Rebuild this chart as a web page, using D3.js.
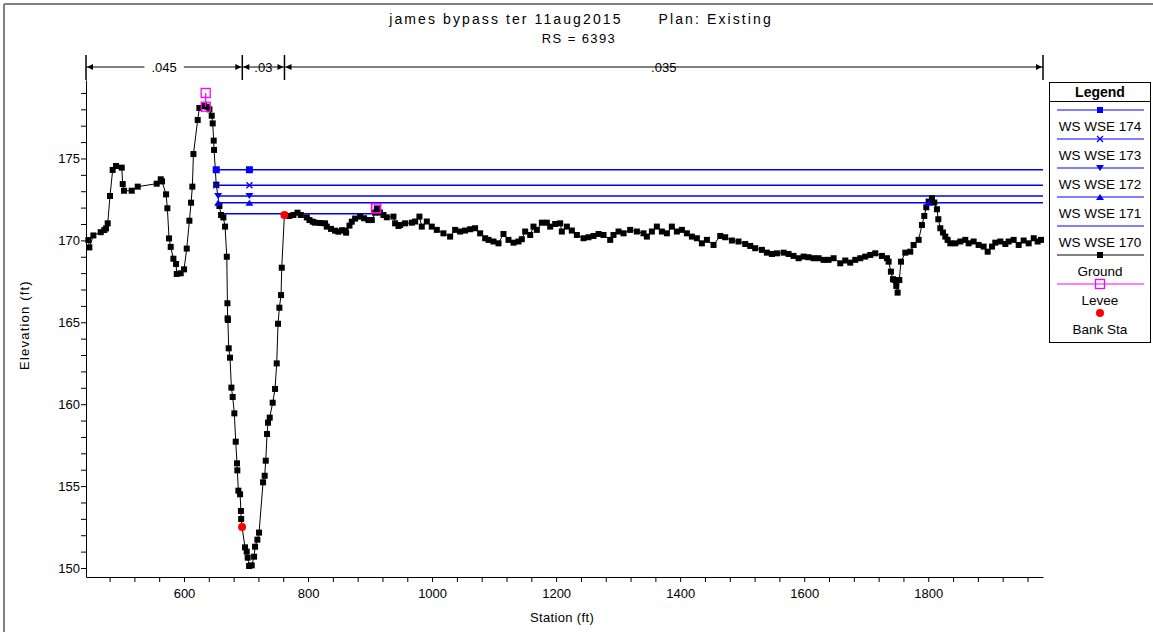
<!DOCTYPE html>
<html><head><meta charset="utf-8">
<script src="https://cdn.jsdelivr.net/npm/d3@7"></script>
<style>
body{margin:0;background:#fff;}
svg{display:block;font-family:"Liberation Sans",Arial,sans-serif;}
</style></head><body>
<svg id="c" width="1153" height="632"></svg>
<script>
// ---------- data ----------
const titleText = "james bypass ter 11aug2015";
const planText = "Plan: Existing";
const rsText = "RS = 6393";
const xLabel = "Station (ft)";
const yLabel = "Elevation (ft)";

const groundSta = [445.8,447.4,453.9,465.7,471.6,474.3,477.0,480.7,485.0,490.4,499.6,501.2,503.3,515.7,525.4,556.0,562.5,564.6,571.1,573.2,575.9,578.6,582.9,587.2,588.3,594.7,600.1,604.4,608.7,611.4,613.5,615.2,622.1,624.8,632.4,636.7,641.0,644.7,646.3,647.9,648.5,652.0,657.1,659.8,663.5,666.2,669.0,670.0,670.3,670.8,672.1,674.2,676.4,678.5,681.2,683.4,685.5,686.0,687.7,690.4,691.8,692.2,693.6,698.4,701.1,702.7,704.9,709.2,713.0,714.6,718.3,721.0,727.5,730.1,731.8,733.9,735.5,738.2,743.0,746.8,749.5,751.6,753.8,756.5,757.6,761.9,770.0,776.4,782.9,788.3,798.0,802.3,807.6,811.4,820.0,827.5,830.2,837.0,843.6,849.0,855.0,859.8,861.4,866.8,870.5,875.9,884.0,890.4,897.4,902.8,908.2,910.9,916.0,921.6,927.0,937.7,940.4,945.8,948.5,956.5,967.3,972.7,979.6,983.4,991.5,999.5,1007.6,1018.3,1029.1,1037.2,1045.2,1053.3,1061.4,1069.4,1077.5,1085.6,1091.0,1099.0,1107.1,1115.1,1123.2,1131.3,1139.3,1144.7,1150.1,1158.2,1163.5,1168.9,1177.0,1185.0,1190.4,1198.5,1206.5,1209.2,1217.3,1225.3,1233.4,1244.2,1252.2,1260.3,1268.4,1276.4,1287.2,1292.5,1300.6,1308.7,1319.4,1330.2,1340.9,1346.3,1354.4,1362.4,1370.5,1378.6,1386.6,1394.7,1402.8,1410.8,1418.9,1426.9,1435.0,1443.1,1453.8,1464.6,1472.6,1483.4,1494.1,1504.9,1513.0,1521.0,1531.8,1539.8,1547.9,1556.0,1566.7,1574.8,1582.8,1590.9,1599.0,1607.0,1615.1,1623.2,1631.2,1639.3,1647.4,1658.1,1666.2,1674.2,1682.3,1690.4,1698.4,1706.5,1714.6,1725.3,1733.4,1736.1,1739.8,1743.1,1745.7,1748.4,1750.6,1753.3,1756.0,1763.0,1771.0,1776.4,1784.5,1789.8,1793.6,1796.8,1800.6,1806.0,1809.7,1814.0,1816.2,1819.4,1823.7,1827.5,1831.2,1835.5,1843.6,1851.7,1859.7,1865.1,1873.2,1881.2,1889.3,1895.8,1902.7,1908.1,1916.2,1924.3,1929.6,1937.7,1945.8,1953.8,1961.9,1970.0,1976.4,1981.8];
const groundElev = [170.02,169.57,170.30,170.50,170.63,170.73,171.04,172.71,174.30,174.54,174.44,173.44,173.03,173.03,173.28,173.46,173.73,173.60,172.81,171.96,170.12,169.60,168.88,168.56,167.95,167.99,168.23,169.50,171.20,172.30,173.28,175.27,177.35,178.08,178.20,178.16,178.00,177.61,177.14,176.09,175.52,173.40,172.10,171.55,171.40,170.84,169.00,166.16,165.24,165.14,163.41,162.84,161.01,160.44,159.44,157.71,156.39,155.96,154.72,154.50,153.48,152.99,152.50,151.26,151.00,150.63,150.12,150.16,150.69,151.30,151.73,152.16,155.23,155.63,156.55,158.18,158.87,159.18,160.09,160.93,162.49,164.91,165.89,166.66,168.33,171.55,171.49,171.55,171.69,171.55,171.40,171.24,171.14,171.08,171.06,171.04,170.84,170.70,170.59,170.53,170.62,170.59,170.47,170.90,171.14,171.33,171.45,171.35,171.24,171.24,171.69,171.95,171.70,171.55,171.41,171.45,171.04,170.88,170.94,171.04,171.08,171.15,171.45,170.84,171.15,170.84,170.64,170.43,170.23,170.64,170.54,170.60,170.68,170.74,170.43,170.13,170.03,169.93,169.82,170.39,170.03,169.86,169.93,170.07,170.54,170.33,170.84,170.64,171.08,171.08,170.84,171.00,171.04,170.54,170.84,170.60,170.33,170.13,170.19,170.27,170.39,170.33,170.03,170.33,170.54,170.43,170.64,170.54,170.43,170.23,170.54,170.84,170.54,170.43,170.84,170.54,170.64,170.43,170.23,170.13,169.82,170.03,169.72,170.27,170.19,169.99,169.93,169.78,169.66,169.52,169.42,169.25,169.17,169.21,169.25,169.17,169.05,168.91,169.01,168.97,168.91,168.91,168.81,168.81,168.91,168.60,168.77,168.64,168.81,168.91,169.01,169.11,169.21,169.05,168.91,168.70,168.09,167.63,167.58,167.22,166.81,167.58,168.70,169.25,169.31,169.72,170.03,170.94,171.49,172.02,172.37,172.57,172.31,171.90,171.29,170.74,170.48,170.23,170.03,169.82,169.82,169.93,170.03,169.82,169.93,169.72,169.62,169.31,169.62,169.86,169.93,169.78,169.93,170.03,169.72,169.99,169.82,170.13,169.93,170.03];

const bankSta = [693.6, 761.9];
const bankElev = [152.50, 171.55];

const leveeSta = [635.0, 909.7];
const leveeTop = [179.00, 171.96];
const leveeBase = [178.16, 171.96];

const wsNames = ["WS WSE 174", "WS WSE 173", "WS WSE 172", "WS WSE 171", "WS WSE 170"];
const wsElev = [174.31, 173.36, 172.71, 172.30, 171.63];
const wsStart = [652.0, 652.0, 655.0, 655.0, 663.0];
const wsEnd = [1985, 1985, 1985, 1985, 909.7];
const wsMarkSta = [[652.0, 705.5], [652.0, 705.5], [655.0, 705.5], [655.0, 705.5, 1800.6], []];
const wsSymbols = ["square", "cross", "tridown", "triup", "none"];

const nValues = [".045", ".03", ".035"];
const nBounds = [442, 694, 762, 1985];

const xTicks = d3.range(480, 1985, 40);
const yTicks = d3.range(150, 180, 1);

// ---------- drawing ----------
const svg = d3.select("#c");
const W = 1153, H = 632;
const x = d3.scaleLinear().domain([442, 1985]).range([86, 1043]);
const y = d3.scaleLinear().domain([149.45, 179.79]).range([577, 80]);

// window frame
svg.append("line").attr("x1", 4).attr("x2", W).attr("y1", 4).attr("y2", 4).attr("stroke", "#808080").attr("stroke-width", 2);
svg.append("line").attr("x1", 4).attr("x2", 4).attr("y1", 4).attr("y2", H).attr("stroke", "#808080").attr("stroke-width", 2);

// titles
const tt = svg.append("text").attr("x", 581).attr("y", 24).attr("text-anchor", "middle")
  .attr("font-size", 14).attr("letter-spacing", 2.1).style("white-space", "pre");
tt.append("tspan").text(titleText);
tt.append("tspan").attr("dx", 36).text(planText);
svg.append("text").attr("x", 579).attr("y", 43).attr("text-anchor", "middle")
  .attr("font-size", 13).attr("letter-spacing", 1.4).text(rsText);

// axes
const xAxis = d3.axisBottom(x).tickValues(xTicks).tickSize(5).tickSizeOuter(0)
  .tickFormat(d => d % 200 === 0 ? d : "");
const gx = svg.append("g").attr("transform", "translate(0,577)").call(xAxis);
gx.select(".domain").attr("stroke", "#000");
gx.selectAll("text").attr("font-size", 13).attr("font-family", "Liberation Sans, Arial").attr("dy", "1.0em");

const yAxis = d3.axisLeft(y).tickValues(yTicks).tickSize(5).tickSizeOuter(0)
  .tickFormat(d => d % 5 === 0 ? d : "");
const gy = svg.append("g").attr("transform", "translate(86,0)").call(yAxis);
gy.selectAll("text").attr("font-size", 13).attr("font-family", "Liberation Sans, Arial").attr("dx", "0.15em");

svg.append("text").attr("x", 562).attr("y", 622).attr("text-anchor", "middle").attr("font-size", 13)
  .attr("letter-spacing", 0.35).text(xLabel);
svg.append("text").attr("transform", "translate(29,325) rotate(-90)").attr("text-anchor", "middle")
  .attr("font-size", 13).attr("letter-spacing", 1.2).text(yLabel);

// n-values header
const nY = 67;
const ng = svg.append("g");
nBounds.forEach(s => {
  ng.append("line").attr("x1", x(s)).attr("x2", x(s)).attr("y1", 55).attr("y2", 80).attr("stroke", "#000").attr("stroke-width", 1.5);
});
nValues.forEach((v, i) => {
  const a = x(nBounds[i]), b = x(nBounds[i + 1]);
  ng.append("line").attr("x1", a).attr("x2", b).attr("y1", nY).attr("y2", nY).attr("stroke", "#000");
  ng.append("path").attr("d", `M${a + 7},${nY - 3}L${a + 1},${nY}L${a + 7},${nY + 3}Z`).attr("fill", "#000");
  ng.append("path").attr("d", `M${b - 7},${nY - 3}L${b - 1},${nY}L${b - 7},${nY + 3}Z`).attr("fill", "#000");
  const t = ng.append("text").attr("class", "nv").attr("x", (a + b) / 2).attr("y", nY + 4.5).attr("text-anchor", "middle").attr("font-size", 13).text(v);
  const bb = t.node().getBBox();
  const pad = i === 1 ? 3 : 7;
  ng.insert("rect", "text.nv").attr("x", bb.x - pad).attr("y", bb.y).attr("width", bb.width + 2 * pad).attr("height", bb.height).attr("fill", "#fff");
});
ng.selectAll("text").raise();

// marker helper
function marker(g, type, cx, cy, color, size) {
  const s = size || 6;
  if (type === "square") {
    g.append("rect").attr("x", cx - s / 2).attr("y", cy - s / 2).attr("width", s).attr("height", s).attr("fill", color);
  } else if (type === "cross") {
    g.append("path").attr("d", `M${cx - 3},${cy - 3}L${cx + 3},${cy + 3}M${cx - 3},${cy + 3}L${cx + 3},${cy - 3}`).attr("stroke", color).attr("stroke-width", 1.3);
  } else if (type === "tridown") {
    g.append("path").attr("d", `M${cx - 4},${cy - 3}L${cx + 4},${cy - 3}L${cx},${cy + 3}Z`).attr("fill", color);
  } else if (type === "triup") {
    g.append("path").attr("d", `M${cx - 4},${cy + 3}L${cx + 4},${cy + 3}L${cx},${cy - 3}Z`).attr("fill", color);
  } else if (type === "opensquare") {
    g.append("rect").attr("x", cx - 4.5).attr("y", cy - 4.5).attr("width", 9).attr("height", 9).attr("fill", "none").attr("stroke", color).attr("stroke-width", 1.3);
  } else if (type === "dot") {
    g.append("circle").attr("cx", cx).attr("cy", cy).attr("r", 4).attr("fill", color);
  }
}

const plot = svg.append("g");

// water surfaces
const blue = "#0000FF";
wsNames.forEach((n, i) => {
  plot.append("line").attr("x1", x(wsStart[i])).attr("x2", x(wsEnd[i]))
    .attr("y1", y(wsElev[i])).attr("y2", y(wsElev[i])).attr("stroke", blue).attr("stroke-width", 1.5);
});

// ground
const pts = groundSta.map((s, i) => [s, groundElev[i]]);
plot.append("path").datum(pts)
  .attr("d", d3.line().x(d => x(d[0])).y(d => y(d[1])))
  .attr("fill", "none").attr("stroke", "#000").attr("stroke-width", 1);
pts.forEach(d => marker(plot, "square", x(d[0]), y(d[1]), "#000", 6));

// ws markers (drawn over ground)
wsNames.forEach((n, i) => {
  wsMarkSta[i].forEach(s => marker(plot, wsSymbols[i], x(s), y(wsElev[i]), blue, 7));
});

// levees
const magenta = "#FF00FF";
leveeSta.forEach((s, i) => {
  plot.append("line").attr("x1", x(s)).attr("x2", x(s)).attr("y1", y(leveeTop[i])).attr("y2", y(leveeBase[i])).attr("stroke", magenta).attr("stroke-width", 1.3);
  marker(plot, "opensquare", x(s), y(leveeTop[i]), magenta);
  marker(plot, "opensquare", x(s), y(leveeBase[i]), magenta);
});

// bank stations
bankSta.forEach((s, i) => marker(plot, "dot", x(s), y(bankElev[i]), "#FF0000"));

// legend
const legendItems = [
  {name: wsNames[0], color: blue, sym: "square"},
  {name: wsNames[1], color: blue, sym: "cross"},
  {name: wsNames[2], color: blue, sym: "tridown"},
  {name: wsNames[3], color: blue, sym: "triup"},
  {name: wsNames[4], color: blue, sym: "none"},
  {name: "Ground", color: "#000", sym: "square"},
  {name: "Levee", color: magenta, sym: "opensquare"},
  {name: "Bank Sta", color: "#FF0000", sym: "dot", noLine: true}
];
const lg = svg.append("g");
const lx0 = 1049, lx1 = 1151, ly0 = 82, ly1 = 342;
lg.append("rect").attr("x", lx0 + 0.5).attr("y", ly0 + 0.5).attr("width", lx1 - lx0 - 1).attr("height", ly1 - ly0).attr("fill", "#fff").attr("stroke", "#000");
lg.append("line").attr("x1", lx0).attr("x2", lx1).attr("y1", 101.5).attr("y2", 101.5).attr("stroke", "#000");
lg.append("text").attr("x", 1100).attr("y", 97).attr("text-anchor", "middle").attr("font-size", 14).attr("font-weight", "bold").text("Legend");
const lcx = 1100;
legendItems.forEach((it, i) => {
  const ly = 110 + i * 29;
  if (!it.noLine) lg.append("line").attr("x1", 1057).attr("x2", 1144).attr("y1", ly).attr("y2", ly).attr("stroke", it.color).attr("stroke-width", 1.2);
  if (it.sym !== "none") marker(lg, it.sym, lcx, ly, it.color, 6);
  lg.append("text").attr("x", lcx).attr("y", ly + 21).attr("text-anchor", "middle").attr("font-size", 13.5).text(it.name);
});
</script>
</body></html>
